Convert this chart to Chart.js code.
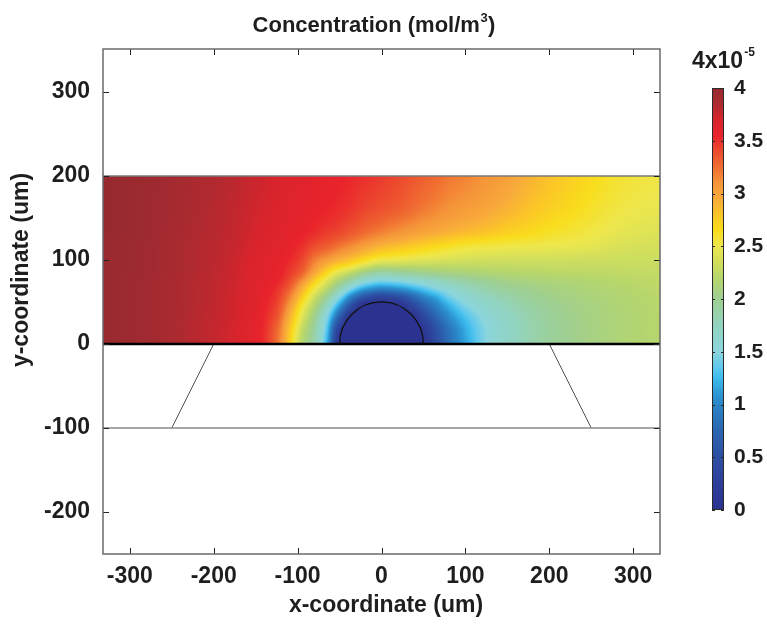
<!DOCTYPE html>
<html>
<head>
<meta charset="utf-8">
<title>Concentration field</title>
<script src="https://cdn.jsdelivr.net/npm/chart.js@4.4.1/dist/chart.umd.min.js"></script>
<style>
  html, body { margin: 0; padding: 0; background: #ffffff; }
  canvas { display: block; }
</style>
</head>
<body>
<canvas id="chart" width="767" height="624"></canvas>
<script>
// ---- sampled concentration field (units of 1e-5 mol/m^3) ----
// node positions along the channel (um)
const xNodes = [-332, -280, -230, -180, -150, -125, -110, -95, -80, -65, -50, -35, -20, 0, 20, 35, 50, 65, 80, 100, 125, 150, 190, 240, 290, 332];
// node heights above the wall (um)
const yNodes = [0, 15, 30, 45, 55, 65, 75, 85, 100, 115, 135, 165, 200];
// one row per yNodes entry, one value per xNodes entry
const concRows = [
  [3.97,3.92,3.83,3.72,3.60,3.25,2.75,2.20,1.85,1.20,0.05,0,0,0,0,0,0.05,0.45,0.80,1.15,1.48,1.68,1.90,2.05,2.15,2.20],
  [3.97,3.92,3.83,3.72,3.60,3.28,2.80,2.28,1.90,1.30,0.20,0,0,0,0,0,0.13,0.50,0.84,1.18,1.49,1.68,1.90,2.05,2.15,2.20],
  [3.97,3.92,3.83,3.73,3.61,3.35,2.92,2.42,2.00,1.45,0.60,0,0,0,0,0,0.34,0.70,1.00,1.28,1.54,1.71,1.91,2.06,2.15,2.20],
  [3.97,3.92,3.84,3.73,3.62,3.42,3.07,2.58,2.18,1.72,1.10,0.45,0,0,0.05,0.32,0.66,0.95,1.20,1.45,1.64,1.78,1.95,2.07,2.16,2.21],
  [3.97,3.92,3.84,3.74,3.63,3.46,3.18,2.75,2.32,1.95,1.45,0.90,0.50,0.30,0.42,0.66,0.95,1.15,1.38,1.58,1.74,1.86,2.00,2.10,2.17,2.22],
  [3.97,3.92,3.84,3.74,3.64,3.50,3.30,2.92,2.52,2.20,1.82,1.40,1.10,0.95,1.02,1.15,1.30,1.45,1.58,1.72,1.85,1.95,2.05,2.13,2.19,2.24],
  [3.97,3.92,3.84,3.75,3.65,3.55,3.40,3.12,2.75,2.42,2.12,1.85,1.60,1.45,1.50,1.57,1.65,1.73,1.82,1.90,1.99,2.06,2.12,2.17,2.22,2.26],
  [3.97,3.93,3.85,3.75,3.66,3.58,3.47,3.30,3.00,2.68,2.42,2.25,2.05,1.90,1.94,1.98,2.02,2.06,2.09,2.12,2.16,2.19,2.22,2.24,2.26,2.28],
  [3.97,3.93,3.85,3.76,3.67,3.60,3.53,3.42,3.20,3.05,2.92,2.80,2.65,2.50,2.47,2.44,2.42,2.40,2.38,2.36,2.35,2.34,2.34,2.33,2.32,2.32],
  [3.97,3.93,3.85,3.77,3.69,3.63,3.57,3.50,3.38,3.30,3.20,3.10,3.00,2.87,2.80,2.75,2.70,2.65,2.60,2.55,2.52,2.50,2.48,2.45,2.38,2.36],
  [3.98,3.94,3.86,3.78,3.71,3.65,3.61,3.57,3.52,3.47,3.42,3.35,3.28,3.20,3.12,3.07,3.02,2.98,2.93,2.88,2.82,2.75,2.65,2.55,2.45,2.41],
  [3.98,3.94,3.87,3.79,3.73,3.68,3.64,3.61,3.58,3.55,3.52,3.48,3.43,3.38,3.33,3.28,3.22,3.17,3.12,3.07,3.00,2.92,2.78,2.64,2.52,2.47],
  [3.98,3.95,3.88,3.81,3.75,3.70,3.66,3.63,3.61,3.58,3.56,3.53,3.50,3.46,3.41,3.36,3.31,3.27,3.22,3.17,3.10,3.02,2.86,2.70,2.57,2.52]
];
// the consuming cell: half disc on the wall, fully depleted
const cellCenter = [0, 0];
const cellRadius = 50;
const cellConc = 0;

// ---- geometry outlines (um) ----
const bottomWall = [{x: -332, y: 0}, {x: 332, y: 0}];
const topWall = [{x: -332, y: 200}, {x: 332, y: 200}];
const lowerEdge = [{x: -332, y: -100}, {x: 332, y: -100}];
const leftSlope = [{x: -200, y: 0}, {x: -250, y: -100}];
const rightSlope = [{x: 200, y: 0}, {x: 250, y: -100}];

// ---- axes ----
const xRange = [-332, 332];
const yRange = [-250, 351];
const xTicks = [-300, -200, -100, 0, 100, 200, 300];
const yTicks = [-200, -100, 0, 100, 200, 300];
const cbRange = [0, 4];
const cbTicks = [0, 0.5, 1, 1.5, 2, 2.5, 3, 3.5, 4];

// ---- colour map ----
const cmapValues = [0, 0.25, 0.5, 0.75, 1.0, 1.1, 1.25, 1.35, 1.5, 1.75, 2.0, 2.2, 2.35, 2.5, 2.65, 2.8, 2.95, 3.1, 3.25, 3.4, 3.55, 3.7, 3.85, 4.0];
const cmapColors = ['#2b3290','#2d3e98','#2d4fa3','#2b66b1','#2b85c7','#2d97d4','#3cbbec','#5fc8ee','#8bd5dc','#92d4c0','#9ecf92','#b6d66c','#d2df5c','#eee74c','#f9dd1c','#fbc528','#f8ab3a','#f59539','#f06d31','#ec4a2e','#e9232b','#d8242c','#ad2a30','#932a2f'];

const FONT = "'Liberation Sans', Arial, Helvetica, sans-serif";
const TEXT = '#1e1e1e';

const cmapRGB = cmapColors.map(h => [parseInt(h.slice(1, 3), 16), parseInt(h.slice(3, 5), 16), parseInt(h.slice(5, 7), 16)]);

function colorFor(v) {
  const n = cmapValues.length;
  if (v <= cmapValues[0]) return cmapRGB[0];
  if (v >= cmapValues[n - 1]) return cmapRGB[n - 1];
  let k = 0;
  while (k < n - 2 && v > cmapValues[k + 1]) k++;
  const t = (v - cmapValues[k]) / (cmapValues[k + 1] - cmapValues[k]);
  const a = cmapRGB[k], b = cmapRGB[k + 1];
  return [a[0] + (b[0] - a[0]) * t, a[1] + (b[1] - a[1]) * t, a[2] + (b[2] - a[2]) * t];
}

// monotone cubic (PCHIP) slopes for smooth shading between nodes
function pchipSlopes(xs, vs) {
  const n = xs.length, h = [], d = [], m = new Array(n);
  for (let k = 0; k < n - 1; k++) { h.push(xs[k + 1] - xs[k]); d.push((vs[k + 1] - vs[k]) / h[k]); }
  m[0] = d[0]; m[n - 1] = d[n - 2];
  for (let k = 1; k < n - 1; k++) {
    if (d[k - 1] * d[k] <= 0) { m[k] = 0; continue; }
    const w1 = 2 * h[k] + h[k - 1], w2 = h[k] + 2 * h[k - 1];
    m[k] = (w1 + w2) / (w1 / d[k - 1] + w2 / d[k]);
  }
  return m;
}
function pchipEval(xs, vs, m, x) {
  const n = xs.length;
  if (x <= xs[0]) return vs[0];
  if (x >= xs[n - 1]) return vs[n - 1];
  let k = 0;
  while (k < n - 2 && x > xs[k + 1]) k++;
  const h = xs[k + 1] - xs[k], t = (x - xs[k]) / h, t2 = t * t, t3 = t2 * t;
  return (2 * t3 - 3 * t2 + 1) * vs[k] + (t3 - 2 * t2 + t) * h * m[k] +
         (-2 * t3 + 3 * t2) * vs[k + 1] + (t3 - t2) * h * m[k + 1];
}
const rowSlopes = concRows.map(r => pchipSlopes(xNodes, r));

const fieldPlugin = {
  id: 'concField',
  beforeDatasetsDraw(chart) {
    const {ctx} = chart;
    const xs = chart.scales.x, ys = chart.scales.y;
    const left = Math.round(xs.getPixelForValue(xNodes[0]));
    const right = Math.round(xs.getPixelForValue(xNodes[xNodes.length - 1]));
    const top = Math.round(ys.getPixelForValue(yNodes[yNodes.length - 1]));
    const bottom = Math.round(ys.getPixelForValue(yNodes[0]));
    const w = right - left, h = bottom - top;
    const off = document.createElement('canvas');
    off.width = w; off.height = h;
    const octx = off.getContext('2d');
    const img = octx.createImageData(w, h);
    const r2 = cellRadius * cellRadius;
    for (let i = 0; i < w; i++) {
      const xv = xs.getValueForPixel(left + i + 0.5);
      const col = concRows.map((r, k) => pchipEval(xNodes, r, rowSlopes[k], xv));
      const colM = pchipSlopes(yNodes, col);
      for (let j = 0; j < h; j++) {
        const yv = ys.getValueForPixel(top + j + 0.5);
        const dx = xv - cellCenter[0], dy = yv - cellCenter[1];
        const v = (dx * dx + dy * dy <= r2) ? cellConc : pchipEval(yNodes, col, colM, yv);
        const c = colorFor(v);
        const p = (j * w + i) * 4;
        img.data[p] = c[0]; img.data[p + 1] = c[1]; img.data[p + 2] = c[2]; img.data[p + 3] = 255;
      }
    }
    octx.putImageData(img, 0, 0);
    ctx.drawImage(off, left, top);
  },
  afterDatasetsDraw(chart) {
    // outline of the cell
    const {ctx} = chart;
    const xs = chart.scales.x, ys = chart.scales.y;
    const cx = xs.getPixelForValue(cellCenter[0]);
    const cy = ys.getPixelForValue(cellCenter[1]);
    const rx = xs.getPixelForValue(cellCenter[0] + cellRadius) - cx;
    const ry = cy - ys.getPixelForValue(cellCenter[1] + cellRadius);
    ctx.save();
    ctx.strokeStyle = '#111111';
    ctx.lineWidth = 1.3;
    ctx.beginPath();
    ctx.ellipse(cx, cy, rx, ry, 0, Math.PI, 2 * Math.PI);
    ctx.stroke();
    ctx.restore();
  }
};

const framePlugin = {
  id: 'frameTicks',
  afterDraw(chart) {
    const {ctx, chartArea: a} = chart;
    const xs = chart.scales.x, ys = chart.scales.y;
    ctx.save();
    // inward tick marks on all four sides
    ctx.strokeStyle = '#222222';
    ctx.lineWidth = 1;
    const tl = 6;
    ctx.beginPath();
    xTicks.forEach(v => {
      const px = Math.round(xs.getPixelForValue(v)) + 0.5;
      ctx.moveTo(px, a.bottom); ctx.lineTo(px, a.bottom - tl);
      ctx.moveTo(px, a.top); ctx.lineTo(px, a.top + tl);
    });
    yTicks.forEach(v => {
      const py = Math.round(ys.getPixelForValue(v)) + 0.5;
      ctx.moveTo(a.left, py); ctx.lineTo(a.left + tl, py);
      ctx.moveTo(a.right, py); ctx.lineTo(a.right - tl, py);
    });
    ctx.stroke();
    // box
    ctx.strokeStyle = '#6a6a6a';
    ctx.lineWidth = 1.5;
    ctx.strokeRect(a.left, a.top, a.right - a.left, a.bottom - a.top);

    ctx.fillStyle = TEXT;
    ctx.textBaseline = 'alphabetic';
    // chart title with superscript unit
    const main = 'Concentration (mol/m', sup = '3', tail = ')';
    ctx.font = 'bold 22px ' + FONT;
    const wMain = ctx.measureText(main).width, wTail = ctx.measureText(tail).width;
    ctx.font = 'bold 13px ' + FONT;
    const wSup = ctx.measureText(sup).width;
    let tx = 374 - (wMain + wSup + wTail + 1) / 2;
    ctx.textAlign = 'left';
    ctx.font = 'bold 22px ' + FONT;
    ctx.fillText(main, tx, 32);
    ctx.font = 'bold 13px ' + FONT;
    ctx.fillText(sup, tx + wMain + 0.5, 22);
    ctx.font = 'bold 22px ' + FONT;
    ctx.fillText(tail, tx + wMain + wSup + 1, 32);

    // axis titles
    ctx.font = 'bold 23px ' + FONT;
    ctx.textAlign = 'center';
    ctx.textBaseline = 'middle';
    ctx.fillText('x-coordinate (um)', 386, 606);
    ctx.translate(22, 270);
    ctx.rotate(-Math.PI / 2);
    ctx.fillText('y-coordinate (um)', 0, 0);
    ctx.restore();
  }
};

const colorbarPlugin = {
  id: 'colorbar',
  afterDraw(chart) {
    const {ctx} = chart;
    const L = 712, R = 724, T = 88, B = 510;
    const toPx = v => B - (v - cbRange[0]) / (cbRange[1] - cbRange[0]) * (B - T);
    ctx.save();
    const g = ctx.createLinearGradient(0, B, 0, T);
    cmapValues.forEach((v, k) => g.addColorStop((v - cbRange[0]) / (cbRange[1] - cbRange[0]), cmapColors[k]));
    ctx.fillStyle = g;
    ctx.fillRect(L, T, R - L, B - T);
    ctx.strokeStyle = '#2a2a2a';
    ctx.lineWidth = 1;
    ctx.beginPath();
    cbTicks.forEach(v => {
      const py = Math.round(toPx(v)) + 0.5;
      ctx.moveTo(L, py); ctx.lineTo(L + 3, py);
      ctx.moveTo(R, py); ctx.lineTo(R - 3, py);
    });
    ctx.stroke();
    ctx.strokeRect(L + 0.5, T + 0.5, R - L - 1, B - T - 1);
    ctx.fillStyle = TEXT;
    ctx.font = 'bold 21px ' + FONT;
    ctx.textAlign = 'left';
    ctx.textBaseline = 'middle';
    cbTicks.forEach(v => ctx.fillText(String(v), 734, toPx(v)));
    // scale factor above the bar
    ctx.textBaseline = 'alphabetic';
    ctx.font = 'bold 23px ' + FONT;
    ctx.fillText('4x10', 692, 68);
    const wBase = ctx.measureText('4x10').width;
    ctx.font = 'bold 12px ' + FONT;
    ctx.fillText('-5', 693 + wBase, 56);
    ctx.restore();
  }
};

const tickFont = {family: FONT, size: 23, weight: 'bold'};

new Chart(document.getElementById('chart'), {
  type: 'scatter',
  data: {
    datasets: [
      {data: bottomWall, showLine: true, borderColor: '#000000', borderWidth: 2.5, pointRadius: 0},
      {data: topWall, showLine: true, borderColor: '#7a7a7a', borderWidth: 1.5, pointRadius: 0},
      {data: lowerEdge, showLine: true, borderColor: '#8a8a8a', borderWidth: 1.5, pointRadius: 0},
      {data: leftSlope, showLine: true, borderColor: '#505050', borderWidth: 1, pointRadius: 0},
      {data: rightSlope, showLine: true, borderColor: '#505050', borderWidth: 1, pointRadius: 0}
    ]
  },
  options: {
    responsive: false,
    animation: false,
    devicePixelRatio: 1,
    layout: {padding: {left: 0, right: 107, top: 49, bottom: 0}},
    plugins: {
      legend: {display: false},
      tooltip: {enabled: false},
      title: {display: false}
    },
    scales: {
      x: {
        type: 'linear',
        min: xRange[0], max: xRange[1],
        afterBuildTicks: s => { s.ticks = xTicks.map(v => ({value: v})); },
        afterFit: s => { s.height = 70; },
        grid: {display: false, drawTicks: false},
        border: {display: false},
        ticks: {font: tickFont, color: TEXT, padding: 9, maxRotation: 0}
      },
      y: {
        type: 'linear',
        min: yRange[0], max: yRange[1],
        afterBuildTicks: s => { s.ticks = yTicks.map(v => ({value: v})); },
        afterFit: s => { s.width = 103; },
        grid: {display: false, drawTicks: false},
        border: {display: false},
        ticks: {font: tickFont, color: TEXT, padding: 13}
      }
    }
  },
  plugins: [fieldPlugin, framePlugin, colorbarPlugin]
});
</script>
</body>
</html>
